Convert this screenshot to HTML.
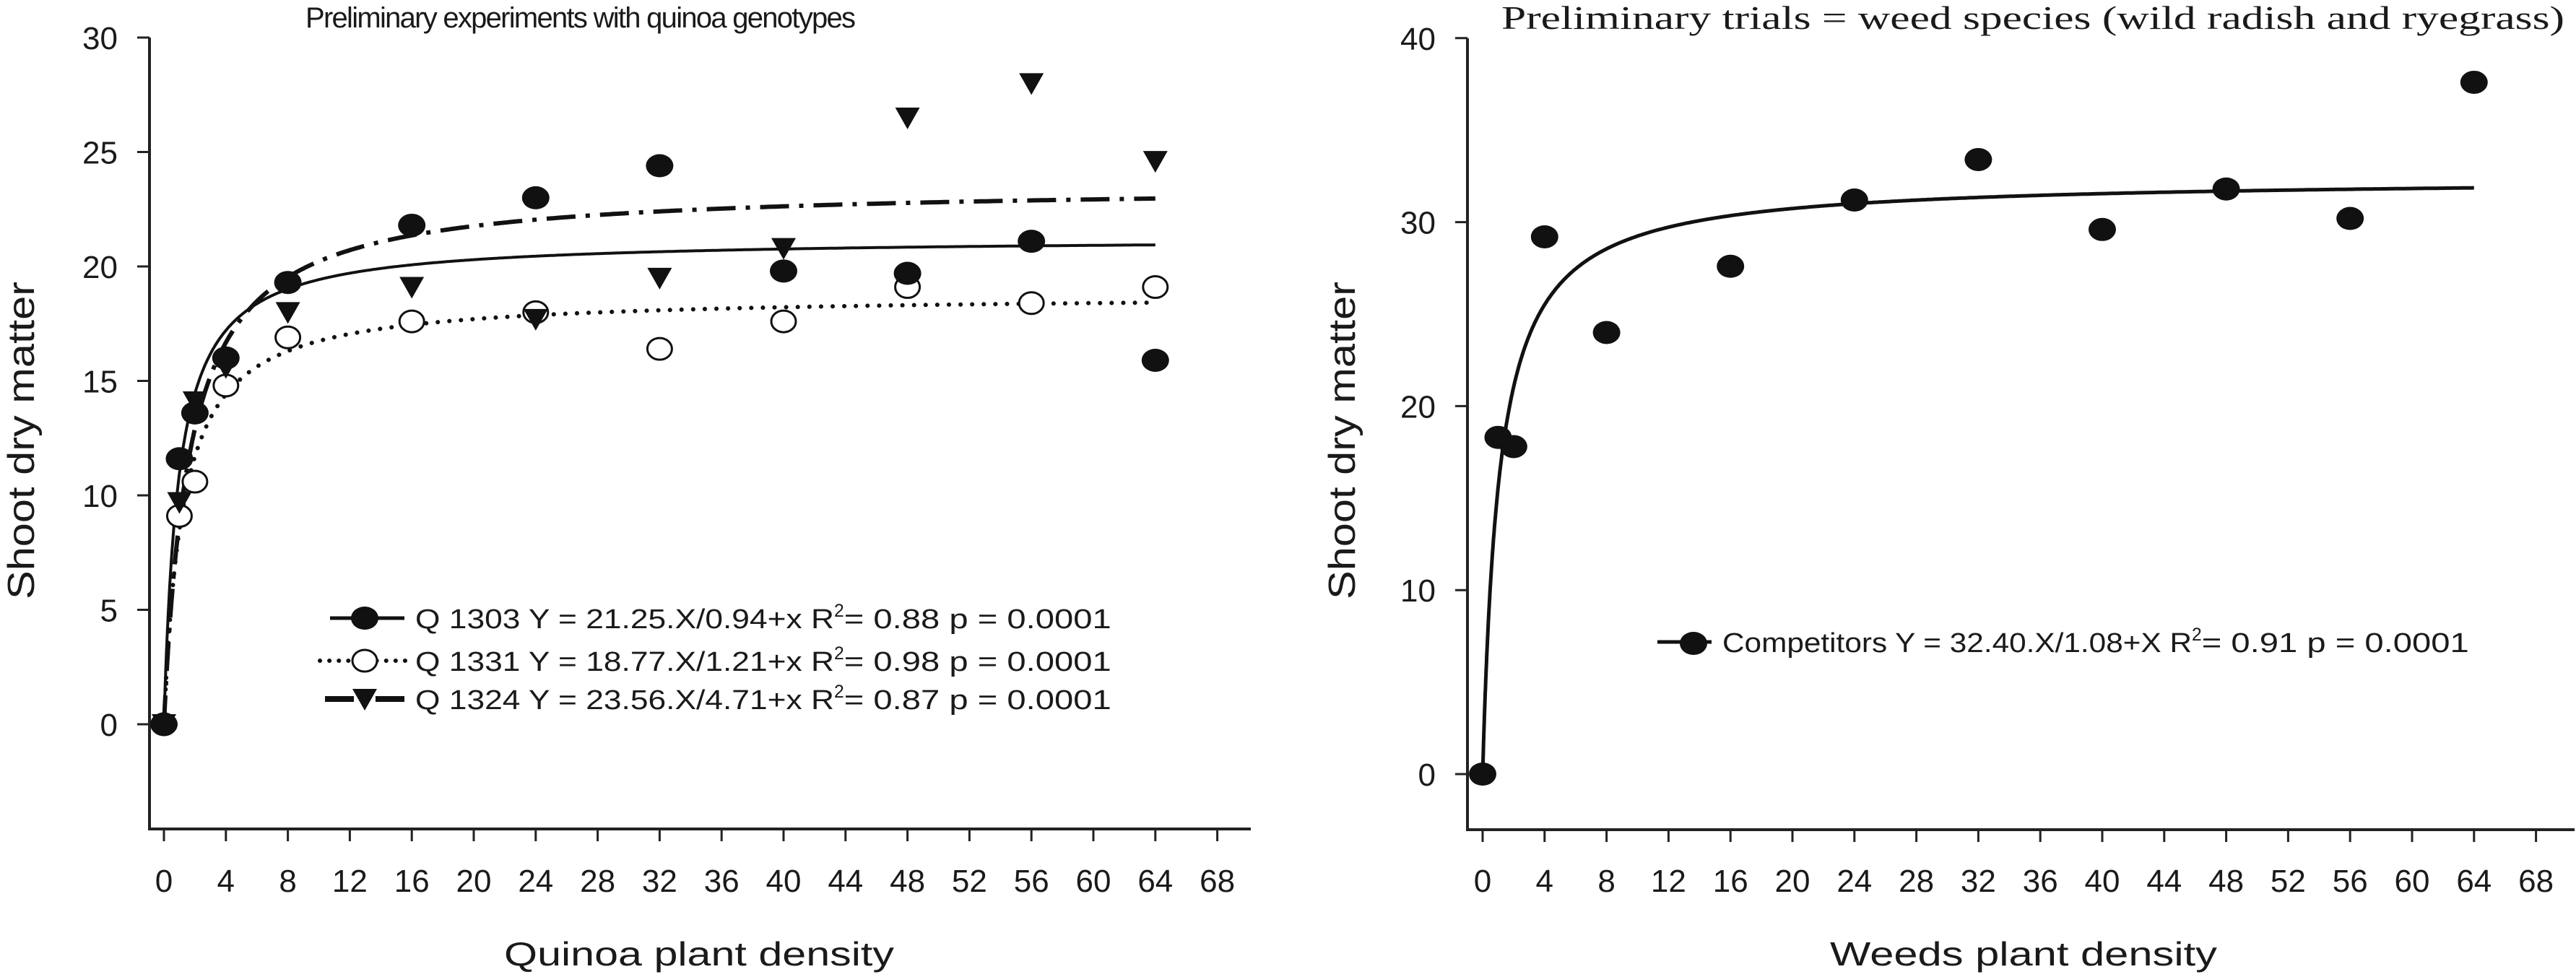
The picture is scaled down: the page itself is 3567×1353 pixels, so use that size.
<!DOCTYPE html>
<html><head><meta charset="utf-8"><style>
html,body{margin:0;padding:0;background:#fff;}
svg{display:block;}
text{font-family:"Liberation Sans",sans-serif;fill:#1a1a1a;}
</style></head><body>
<svg id="chart" width="3567" height="1353" viewBox="0 0 3567 1353" xmlns="http://www.w3.org/2000/svg">
<g id="left"></g>
<g id="right"></g>
</svg>
<script>
// Left chart data
const xDens = [0, 1, 2, 4, 8, 16, 24, 32, 40, 48, 56, 64];
const q1303 = [0, 11.6, 13.6, 16.0, 19.3, 21.8, 23.0, 24.4, 19.8, 19.7, 21.1, 15.9];
const q1331 = [0, 9.1, 10.6, 14.8, 16.9, 17.6, 18.0, 16.4, 17.6, 19.1, 18.4, 19.1];
const q1324 = [0, 9.7, 14.1, 15.6, 18.0, 19.1, 17.7, 19.5, 20.8, 26.5, 28.0, 24.6];
const fitA = [21.25, 18.77, 23.56];
const fitB = [0.94, 1.21, 1.65];
const leftYTicks = [0, 5, 10, 15, 20, 25, 30];
const xTicks = [0, 4, 8, 12, 16, 20, 24, 28, 32, 36, 40, 44, 48, 52, 56, 60, 64, 68];
// Right chart data
const weeds = [0, 18.3, 17.8, 29.2, 24.0, 27.6, 31.2, 33.4, 29.6, 31.8, 30.2, 37.6];
const weedA = [32.40];
const weedB = [1.08];
const rightYTicks = [0, 10, 20, 30, 40];

const NS = 'http://www.w3.org/2000/svg';
function mk(parent, tag, attrs, txt) {
  const e = document.createElementNS(NS, tag);
  for (const k in attrs) e.setAttribute(k, attrs[k]);
  if (txt !== undefined) e.textContent = txt;
  parent.appendChild(e);
  return e;
}

function axes(g, o) {
  const ax = mk(g, 'path', {d: `M${o.x0} ${o.ytop} V${o.ybot} H${o.xend}`, fill: 'none', stroke: '#222', 'stroke-width': 4});
  
  
  o.yt.forEach(v => {
    const y = o.sy(v);
    const t = mk(g, 'line', {x1: o.x0 - 17, x2: o.x0, y1: y, y2: y, stroke: '#222', 'stroke-width': 3});
    
    
    const l = mk(g, 'text', {x: o.x0 - 44, y: y + 16, 'text-anchor': 'end', 'font-size': 44}, v);
    
    
  });
  xTicks.forEach(v => {
    const x = o.sx(v);
    const t = mk(g, 'line', {x1: x, x2: x, y1: o.ybot, y2: o.ybot + 17, stroke: '#222', 'stroke-width': 3});
    
    
    const l = mk(g, 'text', {x: x, y: 1235, 'text-anchor': 'middle', 'font-size': 44}, v);
    
    
  });
}

function curve(g, o, a, b, style, name) {
  let d = '';
  for (let i = 0; i <= 640; i++) {
    const x = 64 * Math.pow(i / 640, 2);
    const y = a * x / (b + x);
    d += (i ? 'L' : 'M') + o.sx(x).toFixed(1) + ' ' + o.sy(y).toFixed(1);
  }
  const p = mk(g, 'path', Object.assign({d: d, fill: 'none', stroke: '#111'}, style));
  
  
}

function marker(g, type, x, y, name) {
  let e;
  if (type === 'dot') e = mk(g, 'ellipse', {cx: x, cy: y, rx: 19, ry: 16, fill: '#111'});
  else if (type === 'open') e = mk(g, 'ellipse', {cx: x, cy: y, rx: 17, ry: 15, fill: '#fff', stroke: '#111', 'stroke-width': 3});
  else e = mk(g, 'path', {d: `M${x - 17} ${y - 14} H${x + 17} L${x} ${y + 16} Z`, fill: '#111'});
  
  
}

function legendText(g, x, y, pre, post, pw, fs) {
  const t = mk(g, 'text', {x: x, y: y, 'font-size': fs});
  
  
  mk(t, 'tspan', {textLength: pw, lengthAdjust: 'spacingAndGlyphs'}, pre);
  mk(t, 'tspan', {dy: -16, 'font-size': fs * 0.65}, '2');
  mk(t, 'tspan', {dy: 16, textLength: post[1], lengthAdjust: 'spacingAndGlyphs'}, post[0]);
}

// ---- Left chart ----
const L = document.getElementById('left');
const Lo = {x0: 207, ytop: 52, ybot: 1148, xend: 1732,
  sx: v => 227 + v * 21.45, sy: v => 1003 - v * 31.7, yt: leftYTicks};
axes(L, Lo);
let tt = mk(L, 'text', {x: 423, y: 38, 'font-size': 40, textLength: 762, lengthAdjust: 'spacing'}, 'Preliminary experiments with quinoa genotypes');
 
tt = mk(L, 'text', {x: 968, y: 1337, 'text-anchor': 'middle', 'font-size': 46, textLength: 540, lengthAdjust: 'spacingAndGlyphs'}, 'Quinoa plant density');
 
tt = mk(L, 'text', {x: 0, y: 0, transform: 'translate(47 610) rotate(-90)', 'text-anchor': 'middle', 'font-size': 52, textLength: 440, lengthAdjust: 'spacingAndGlyphs'}, 'Shoot dry matter');
 

curve(L, Lo, fitA[2], fitB[2], {'stroke-width': 6, 'stroke-dasharray': '40 14 6 14'}, 'fit-q1324');
curve(L, Lo, fitA[1], fitB[1], {'stroke-width': 6, 'stroke-dasharray': '0.1 16', 'stroke-linecap': 'round'}, 'fit-q1331');
curve(L, Lo, fitA[0], fitB[0], {'stroke-width': 4}, 'fit-q1303');
xDens.forEach((x, i) => {
  marker(L, 'open', Lo.sx(x), Lo.sy(q1331[i]), 'point-q1331');
  marker(L, 'tri', Lo.sx(x), Lo.sy(q1324[i]), 'point-q1324');
  marker(L, 'dot', Lo.sx(x), Lo.sy(q1303[i]), 'point-q1303');
});
// legend
const LG = mk(L, 'g', {});
 
mk(LG, 'line', {x1: 457, x2: 560, y1: 856, y2: 856, stroke: '#111', 'stroke-width': 5});
marker(LG, 'dot', 505, 856, 'legend-marker-q1303');
mk(LG, 'line', {x1: 443, x2: 570, y1: 915, y2: 915, stroke: '#111', 'stroke-width': 6, 'stroke-dasharray': '0.1 13', 'stroke-linecap': 'round'});
marker(LG, 'open', 505, 915, 'legend-marker-q1331');
mk(LG, 'line', {x1: 450, x2: 570, y1: 968, y2: 968, stroke: '#111', 'stroke-width': 8, 'stroke-dasharray': '40 30 40'});
marker(LG, 'tri', 505, 968, 'legend-marker-q1324');
legendText(LG, 575, 870, 'Q 1303  Y = 21.25.X/0.94+x   R', ['= 0.88   p = 0.0001', 370], 580, 38);
legendText(LG, 575, 929, 'Q 1331  Y = 18.77.X/1.21+x   R', ['= 0.98   p = 0.0001', 370], 580, 38);
legendText(LG, 575, 982, 'Q 1324  Y = 23.56.X/4.71+x   R', ['= 0.87   p = 0.0001', 370], 580, 38);

// ---- Right chart ----
const R = document.getElementById('right');
const Ro = {x0: 2032, ytop: 53, ybot: 1149, xend: 3565,
  sx: v => 2053 + v * 21.45, sy: v => 1072 - v * 25.48, yt: rightYTicks};
axes(R, Ro);
tt = mk(R, 'text', {x: 2079, y: 40, 'font-size': 46, textLength: 1472, lengthAdjust: 'spacingAndGlyphs', style: 'font-family:"Liberation Serif",serif'}, 'Preliminary trials = weed species (wild radish and ryegrass)');
 
tt = mk(R, 'text', {x: 2802, y: 1337, 'text-anchor': 'middle', 'font-size': 46, textLength: 536, lengthAdjust: 'spacingAndGlyphs'}, 'Weeds plant density');
 
tt = mk(R, 'text', {x: 0, y: 0, transform: 'translate(1876 610) rotate(-90)', 'text-anchor': 'middle', 'font-size': 52, textLength: 440, lengthAdjust: 'spacingAndGlyphs'}, 'Shoot dry matter');
 
curve(R, Ro, weedA[0], weedB[0], {'stroke-width': 5}, 'fit-competitors');
xDens.forEach((x, i) => marker(R, 'dot', Ro.sx(x), Ro.sy(weeds[i]), 'point-competitors'));
const RG = mk(R, 'g', {});
 
mk(RG, 'line', {x1: 2295, x2: 2370, y1: 889, y2: 889, stroke: '#111', 'stroke-width': 5});
marker(RG, 'dot', 2345, 891, 'legend-marker-competitors');
legendText(RG, 2385, 903, 'Competitors Y = 32.40.X/1.08+X   R', ['= 0.91   p = 0.0001', 370], 650, 38);
</script>
</body></html>
